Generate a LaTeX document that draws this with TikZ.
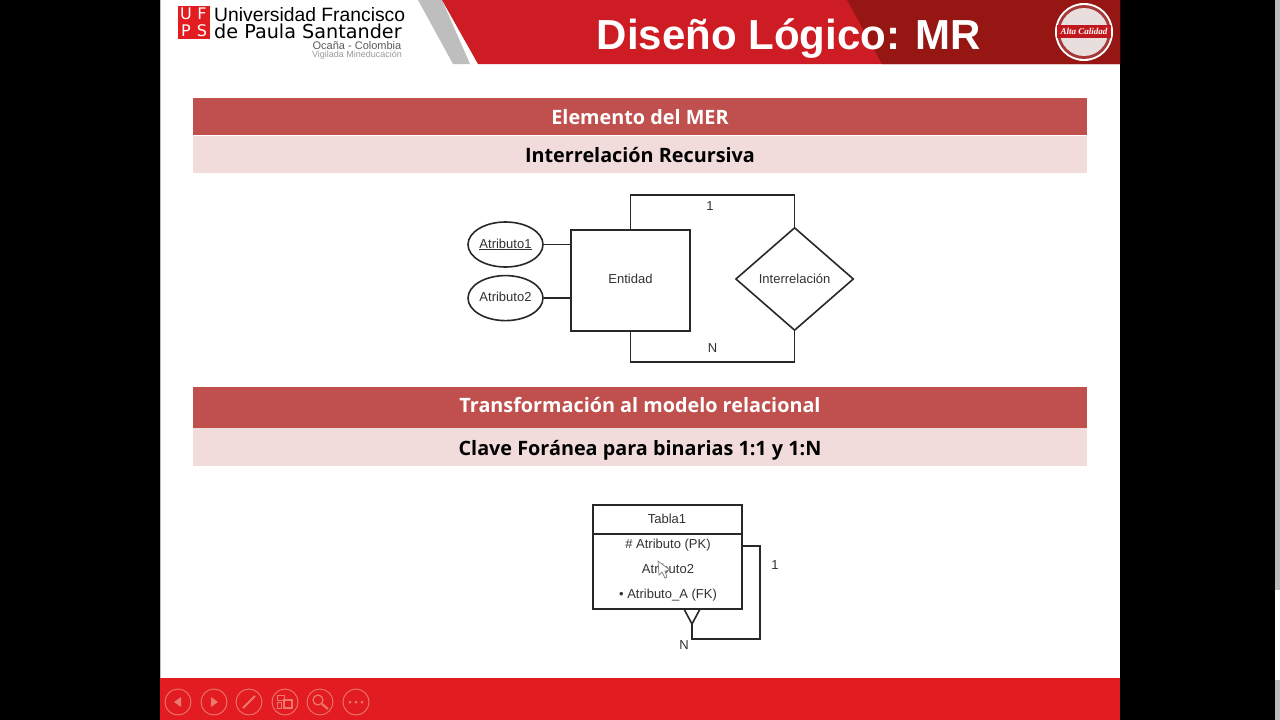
\documentclass[tikz,border=0pt]{standalone}
\usepackage{fontspec}
\setmainfont{Liberation Sans}
\newfontfamily\bandfont{Open Sans}
\newfontfamily\sealfont{Liberation Serif}
\newfontfamily\logofont{DejaVu Sans}
\usepackage{tikz}
\usetikzlibrary{arrows.meta, positioning, shapes.geometric, calc}
\definecolor{ufpsRed}{RGB}{226,28,33}
\definecolor{headRed}{RGB}{205,28,35}
\definecolor{headDark}{RGB}{150,22,20}
\definecolor{bandRed}{RGB}{192,80,77}
\definecolor{bandPink}{RGB}{242,220,219}
\definecolor{stripGray}{RGB}{190,190,190}
\definecolor{iconPink}{RGB}{236,120,110}
\definecolor{lineDark}{RGB}{40,40,40}
\definecolor{textDark}{RGB}{50,50,50}
\definecolor{sealPale}{RGB}{232,222,222}
\newcommand{\bandlabel}[2]{\raisebox{-#1}[0pt][0pt]{#2}}
\tikzset{
    bandhead/.style={rectangle, fill=bandRed, minimum width=894pt, minimum height=#1, inner sep=0pt,
                     text=white, font=\bandfont\fontsize{19.8}{23}\selectfont\bfseries},
    bandsub/.style={rectangle, fill=bandPink, minimum width=894pt, minimum height=#1, inner sep=0pt,
                    text=black, font=\bandfont\fontsize{19.8}{23}\selectfont\bfseries},
    ent/.style={rectangle, draw=lineDark, line width=1.6pt, fill=white, text=textDark, inner sep=0pt,
                minimum width=119pt, minimum height=101pt, font=\fontsize{13}{15}\selectfont},
    attr/.style={ellipse, draw=lineDark, line width=1.6pt, fill=white, text=textDark, inner sep=0pt,
                 minimum width=75pt, minimum height=45pt, font=\fontsize{13}{15}\selectfont},
    rel/.style={diamond, draw=lineDark, line width=1.6pt, fill=white, text=textDark, inner sep=0pt,
                minimum width=118pt, minimum height=103pt, font=\fontsize{13}{15}\selectfont},
    tbl/.style={rectangle, draw=lineDark, line width=1.6pt, fill=white, inner sep=0pt,
                minimum width=149pt, minimum height=104pt},
    lbl/.style={text=textDark, inner sep=0pt, font=\fontsize{13}{15}\selectfont},
    link/.style={draw=lineDark, line width=1.6pt},
    icon/.style={draw=iconPink, line width=0.9pt}
}

\begin{document}
\begin{tikzpicture}[x=1pt, y=-1pt]
    \useasboundingbox (0,0) rectangle (1280,720);
    % screen and slide
    \fill[black] (0,0) rectangle (1280,720);
    \fill[stripGray] (1275,0) rectangle (1280,590);
    \fill[white] (1275,590) rectangle (1280,680);
    \fill[stripGray] (1275,680) rectangle (1280,720);
    \fill[white] (160,0) rectangle (1120,678);
    \fill[stripGray] (160,0) rectangle (161,678);

    % header
    \fill[stripGray] (418,0) -- (442,0) -- (470,64) -- (453,64) -- cycle;
    \fill[headRed] (442,0) -- (1120,0) -- (1120,64) -- (478,64) -- cycle;
    \fill[headDark] (847,0) -- (882,64) -- (1120,64) -- (1120,0) -- cycle;
    \node[text=white, font=\fontsize{42}{46}\selectfont\bfseries, inner sep=0pt] (title) at (789,38.5) {Diseño Lógico: MR};

    % logo
    \fill[ufpsRed] (178,6) rectangle (210,39);
    \foreach \ltr/\lx/\ly in {U/186/14, F/202/14, P/186/31, S/202/31}
        \node[text=white, font=\logofont\fontsize{16}{16}\selectfont, inner sep=0pt] (logo\ltr) at (\lx,\ly) {\ltr};
    \node[anchor=west, inner sep=0pt, font=\fontsize{19.3}{20}\selectfont] (uniA) at (214,14.5) {Universidad Francisco};
    \node[anchor=west, inner sep=0pt, font=\logofont\fontsize{19.2}{20}\selectfont] (uniB) at (214,31) {de Paula Santander};
    \node[text=textDark!80, inner sep=0pt, font=\fontsize{11}{12}\selectfont] (uniC) at (357,46) {Ocaña - Colombia};
    \node[text=gray!80, inner sep=0pt, font=\fontsize{9}{10}\selectfont] (uniD) at (357,55.5) {Vigilada Mineducación};

    % seal
    \fill[white] (1084,32) circle (29);
    \fill[headDark!85!white] (1084,32) circle (27);
    \fill[sealPale] (1084,32) circle (24);
    \fill[ufpsRed!85!black] (1057,25) rectangle (1111,38);
    \node[text=white, font=\sealfont\fontsize{9}{11}\selectfont\bfseries\itshape, inner sep=0pt] (seal) at (1084,31.5) {Alta Calidad};

    % bands
    \node[bandhead=37pt] (bandA) at (640,116.5) {\bandlabel{7.5pt}{Elemento del MER}};
    \node[bandsub=37pt] (bandB) at (640,154.5) {\bandlabel{7.5pt}{Interrelación Recursiva}};
    \node[bandhead=41pt] (bandC) at (640,407.5) {\bandlabel{5pt}{Transformación al modelo relacional}};
    \node[bandsub=38pt] (bandD) at (640,447) {\bandlabel{8pt}{Clave Foránea para binarias 1:1 y 1:N}};

    % entity diagram
    \node[ent] (entidad) at (630.5,280.5) {\raisebox{3.5pt}{Entidad}};
    \node[rel, right=44pt of entidad, yshift=1.5pt] (inter) {\raisebox{1pt}{Interrelación}};
    \node[attr] (atr1) at (505.5,244.5) {\raisebox{1.5pt}{\underline{Atributo1}}};
    \node[attr, below=7pt of atr1] (atr2) {\raisebox{2.5pt}{Atributo2}};
    \node[lbl] (uno) at (710,206) {1};
    \node[lbl] (ene) at (712.5,348.5) {N};
    \draw[link] (atr1.east) -- (atr1.east -| entidad.west);
    \draw[link] (atr2.east) -- (atr2.east -| entidad.west);
    \draw[link] (entidad.north) -- ++(0,-34) -| (inter.north);
    \draw[link] (entidad.south) -- ++(0,30) -| (inter.south);

    % table
    \node[tbl] (tabla) at (667.5,557) {};
    \node[lbl] (tname) at (667,518.5) {Tabla1};
    \node[lbl] (tpk) at (668,545.5) {\# Atributo (PK)};
    \node[lbl] (tatr) at (668,568.5) {Atributo2};
    \node[lbl] (tfk) at (668,595) {• Atributo\_A (FK)};
    \draw[link] (tabla.west |- 0,534) -- (tabla.east |- 0,534);
    \coordinate (selfA) at (tabla.east |- 0,546);
    \coordinate (selfB) at (692,639);
    \coordinate (crow) at (692,624);
    \coordinate (crowL) at (684,609);
    \coordinate (crowR) at (700,609);
    \draw[link] (selfA) -- ++(17,0) |- (selfB) -- (crow);
    \draw[link] (crowL) -- (crow) -- (crowR);
    \node[lbl] (tuno) at (775,565) {1};
    \node[lbl] (tene) at (684,645) {N};

    % mouse pointer
    \draw[fill=white, draw=gray, line width=0.7pt] (658,561) -- (659,575) -- (662,572) -- (665,578) -- (667,577) -- (665,571) -- (670,570) -- cycle;

    % footer
    \fill[ufpsRed] (160,678) rectangle (1120,720);
    \foreach \ix in {178,214,249,285,320,356}
        \draw[icon] (\ix,702) circle (13);
    \fill[iconPink] (181,697) -- (181,707) -- (174,702) -- cycle;
    \fill[iconPink] (211,697) -- (211,707) -- (218,702) -- cycle;
    \draw[iconPink, line width=2pt] (243,708) -- (255,696);
    \draw[icon] (277,695) rectangle (284,700);
    \draw[icon] (277,702) rectangle (281,708);
    \draw[icon, line width=1.2pt] (284,700) rectangle (292,708);
    \draw[icon, line width=1.2pt] (318,700) circle (5);
    \draw[iconPink, line width=2pt] (322,704) -- (328,709);
    \foreach \dx in {350,356,362}
        \fill[iconPink] (\dx,702) circle (1.5);
\end{tikzpicture}
\end{document}
